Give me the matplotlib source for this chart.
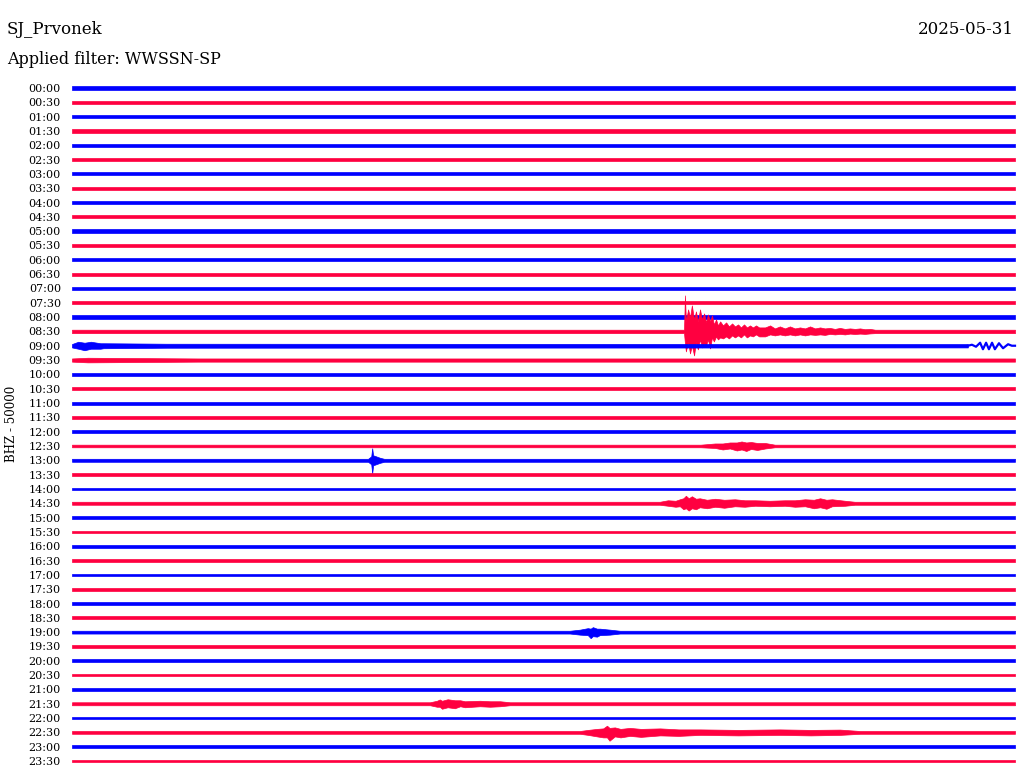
import matplotlib
matplotlib.use("Agg")
import matplotlib.pyplot as plt
import numpy as np

# helicorder: 48 rows of 30 minutes, SJ_Prvonek BHZ, 2025-05-31
station = "SJ_Prvonek"
day = "2025-05-31"
filter_name = "WWSSN-SP"
channel_label = "BHZ - 50000"

row_labels = ["%02d:%02d" % (h, m) for h in range(24) for m in (0, 30)]

# background noise half-amplitude of each row (pixels)
base_amp = [1.8, 1.7, 1.8, 1.7, 1.7, 1.6, 1.6, 1.6, 1.6, 1.6, 1.8, 1.6,
            1.6, 1.6, 1.6, 1.6, 1.6, 1.7, 1.7, 1.6, 1.5, 1.5, 1.5, 1.5,
            1.4, 1.3, 1.5, 1.5, 1.4, 1.5, 1.5, 1.4, 1.4, 1.3, 1.3, 1.4,
            1.4, 1.5, 1.4, 1.5, 1.4, 1.3, 1.4, 1.5, 1.3, 1.4, 1.5, 1.4]

# the big quake on the 08:30 row: minute, up px, down px
quake_t = [19.47, 19.50, 19.53, 19.60, 19.66, 19.72, 19.79, 19.85, 19.91, 19.98,
           20.04, 20.11, 20.17, 20.23, 20.30, 20.36, 20.42, 20.49, 20.55, 20.62,
           20.71, 20.81, 20.90, 21.00, 21.09, 21.19, 21.28, 21.38, 21.47, 21.57,
           21.66, 21.76, 21.86,
           22.05, 22.21, 22.36, 22.52, 22.68, 22.84, 23.00, 23.16, 23.32, 23.48,
           23.64, 23.80, 23.95, 24.11, 24.27, 24.43, 24.59, 24.75, 24.91, 25.07,
           25.23, 25.39, 25.55]
quake_up = [1.7, 36, 10, 22, 14, 26, 12, 20, 10, 22,
            12, 18, 9, 17, 10, 16, 7, 12, 6, 10,
            6, 9, 5, 8, 5, 7, 4, 7, 4, 6,
            4, 6, 4,
            4, 6, 3, 5, 3, 5, 3, 4, 3, 5,
            3, 4, 3, 3.5, 2.5, 3.5, 2.5, 3, 2.5, 3,
            2.2, 2.5, 1.7]
quake_dn = [1.7, 12, 20, 10, 22, 14, 24, 10, 18, 8,
            16, 12, 14, 8, 17, 6, 10, 5, 8, 6,
            7, 5, 7, 4, 6, 4, 6, 3, 6, 4,
            5, 3, 5,
            5, 3, 4, 3, 4, 3, 4, 3, 4, 3,
            3.5, 3, 3.5, 2.5, 3, 2.5, 3, 2.2, 2.6, 2.2,
            2.5, 2, 1.7]

# smaller events per row: (minute, up px, down px)
events = {
    17: list(zip(quake_t, quake_up, quake_dn)),
    18: [(0.20, 4, 3), (0.40, 3, 4.5), (0.60, 4, 3), (0.90, 2.5, 3),
         (1.00, 2.5, 2.5), (3.00, 2.0, 2.0)],
    19: [(0.50, 2.3, 2.3), (2.00, 2.0, 2.0), (4.00, 1.6, 1.6)],
    25: [(20.00, 1.3, 1.3), (20.46, 2.5, 2), (20.70, 2.5, 3.5), (20.93, 3.5, 2.5),
         (21.15, 3.5, 4.5), (21.30, 4.5, 3.5), (21.45, 3.5, 5), (21.60, 4, 3),
         (21.80, 3, 4), (22.05, 3, 2.5), (22.36, 1.3, 1.3)],
    26: [(9.42, 1.5, 1.5), (9.48, 3, 3), (9.52, 4, 4), (9.55, 12, 13),
         (9.58, 5, 5), (9.67, 4, 4), (9.80, 2.5, 2.5), (9.93, 1.5, 1.5)],
    29: [(18.70, 1.5, 1.5), (18.96, 3, 2.5), (19.20, 2.5, 3.5), (19.34, 4, 3),
         (19.45, 5, 6), (19.53, 7.5, 5), (19.62, 5, 7.3), (19.72, 7, 5),
         (19.85, 4.5, 6), (19.97, 5, 4), (20.20, 3.5, 5), (20.46, 4.5, 3.5),
         (20.75, 3.5, 4.5), (21.09, 4, 3), (21.40, 3, 3.5), (21.73, 3, 2.5),
         (22.20, 2.5, 3), (22.68, 3, 2.5), (23.00, 3, 3.5), (23.32, 4, 3),
         (23.60, 3.5, 5), (23.80, 5, 4), (24.00, 3.5, 5.5), (24.18, 4, 3),
         (24.59, 2.5, 2.5), (24.90, 1.5, 1.5)],
    38: [(15.84, 1.4, 1.4), (16.16, 2.5, 2.5), (16.41, 4, 3), (16.50, 3.5, 6),
         (16.57, 5, 4), (16.70, 3.5, 4.5), (16.79, 3.5, 3), (17.11, 2.5, 2.5),
         (17.43, 1.4, 1.4)],
    43: [(11.39, 1.5, 1.5), (11.61, 3, 3), (11.70, 4.3, 3), (11.77, 3, 5),
         (11.95, 4.5, 3.5), (12.18, 3.5, 4.5), (12.35, 3.5, 2.5), (12.50, 2.5, 3.5),
         (12.98, 3, 2.5), (13.30, 2.5, 3), (13.62, 2.5, 2.5), (13.93, 1.5, 1.5)],
    45: [(16.16, 1.4, 1.4), (16.42, 2.5, 2.5), (16.70, 3.5, 4), (16.90, 4, 5),
         (17.02, 6.7, 5), (17.10, 4.5, 8.3), (17.27, 5, 4), (17.45, 3.5, 5),
         (17.75, 4.5, 3.5), (18.10, 3.5, 4.5), (18.71, 4, 3), (19.30, 3, 3.5),
         (19.98, 3, 2.5), (21.20, 2.5, 3), (22.52, 3, 2.5), (23.50, 2.5, 3),
         (24.43, 2.8, 2.5), (25.07, 1.4, 1.4)],
}

# long period wiggle at the end of the 09:00 row: (minute, offset px, up positive)
wave_row = 18
wave_0900 = [(28.50, 0), (28.63, 1), (28.76, -1), (28.89, 3), (28.98, -3.5),
             (29.08, 3), (29.17, -3.5), (29.27, 3), (29.36, -3.5), (29.49, 2.5),
             (29.62, -2.5), (29.78, 1.5), (29.90, 0), (30.00, 0)]

PX = 14.32  # pixels per row
colors = ["#0000ff", "#ff0040"]

fig = plt.figure(figsize=(10.24, 7.8), dpi=100)
ax = fig.add_axes([72 / 1024, (780 - 772.5) / 780, 943 / 1024, 696 / 780])

for i, b in enumerate(base_amp):
    c = colors[i % 2]
    end = wave_0900[0][0] if i == wave_row else 30.0
    pts = [(0.0, b, b)] + events.get(i, []) + [(end, b, b)]
    t = np.array([p[0] for p in pts])
    up = np.array([p[1] for p in pts]) / PX
    dn = np.array([p[2] for p in pts]) / PX
    ax.fill_between(t, i - up, i + dn, color=c, linewidth=0.5, edgecolor=c,
                    clip_on=False)
    if i == wave_row:
        wt = [w[0] for w in wave_0900]
        wy = [i - w[1] / PX for w in wave_0900]
        ax.plot(wt, wy, color=c, linewidth=1.6, clip_on=False)

ax.set_xlim(0, 30)
ax.set_ylim(47.8, -0.8)
ax.set_yticks(range(len(row_labels)))
ax.set_yticklabels(row_labels, fontsize=8, family="DejaVu Serif")
ax.tick_params(axis="y", length=0, pad=8)
ax.set_xticks([])
for s in ax.spines.values():
    s.set_visible(False)

fig.text(7 / 1024, 1 - 30 / 780, station, fontsize=12, family="DejaVu Serif",
         va="center", ha="left")
fig.text(1014 / 1024, 1 - 30 / 780, day, fontsize=12, family="DejaVu Serif",
         va="center", ha="right")
fig.text(7 / 1024, 1 - 60 / 780, "Applied filter: " + filter_name, fontsize=11.5,
         family="DejaVu Serif", va="center", ha="left")
fig.text(12 / 1024, 1 - 424 / 780, channel_label, fontsize=8.5, rotation=90,
         family="DejaVu Serif", va="center", ha="center")

fig.savefig("out.png", dpi=100, facecolor="white")
